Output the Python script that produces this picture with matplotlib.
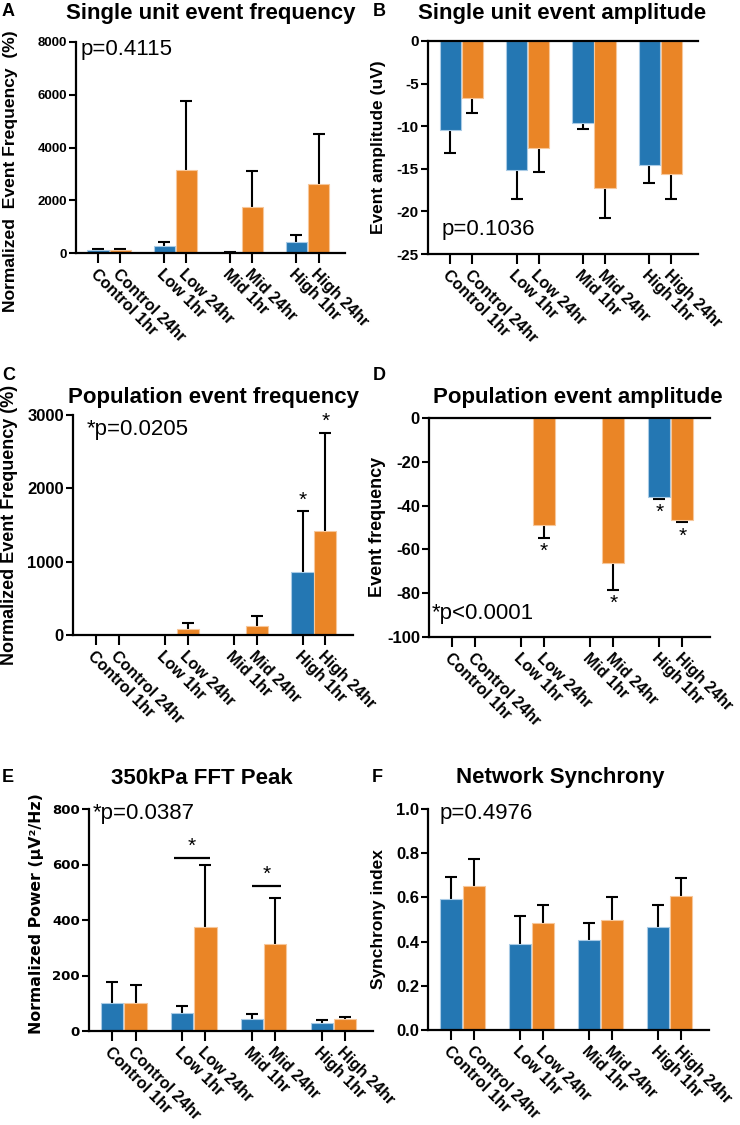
import matplotlib
matplotlib.use("Agg")
import matplotlib.pyplot as plt

plt.rcParams['font.family'] = ['Liberation Sans', 'DejaVu Sans']
plt.rcParams['axes.unicode_minus'] = False

W, H = 740, 1125
BLUE = "#2477b3"
ORANGE = "#ea8526"
BLUE_EDGE = "#a9cbe6"
ORANGE_EDGE = "#f7c79a"

labels = ["Control 1hr", "Control 24hr", "Low 1hr", "Low 24hr",
          "Mid 1hr", "Mid 24hr", "High 1hr", "High 24hr"]
x_pos = [0, 1, 3, 4, 6, 7, 9, 10]

# A - single unit event frequency (%)
su_freq = [100, 100, 250, 3150, 20, 1740, 415, 2630]
su_freq_err = [50, 45, 150, 2620, 25, 1385, 265, 1870]

# B - single unit event amplitude (uV)
su_amp = [-10.4, -6.7, -15.1, -12.5, -9.6, -17.3, -14.6, -15.6]
su_amp_err = [2.7, 1.7, 3.5, 2.9, 0.7, 3.5, 2.1, 3.0]

# C - population event frequency (%)
pop_freq = [0, 0, 0, 82, 0, 128, 857, 1423]
pop_freq_err = [0, 0, 0, 78, 0, 136, 830, 1336]
pop_freq_star = [False, False, False, False, False, False, True, True]

# D - population event amplitude
pop_amp = [0, 0, 0, -48.9, 0, -66.1, -36.0, -46.7]
pop_amp_err = [0, 0, 0, 5.8, 0, 12.4, 0.8, 0.9]
pop_amp_star = [False, False, False, True, False, True, True, True]

# E - 350kPa FFT peak
fft_peak = [100, 100, 65, 376, 45, 313, 30, 42]
fft_peak_err = [77, 67, 25, 224, 15, 165, 8, 10]
fft_sig_pairs = [(2.65, 4.2, 625), (6.0, 7.25, 524)]

# F - network synchrony
sync_idx = [0.594, 0.653, 0.390, 0.482, 0.405, 0.497, 0.465, 0.607]
sync_err = [0.098, 0.120, 0.127, 0.083, 0.080, 0.106, 0.101, 0.083]

colors = [BLUE, ORANGE] * 4
edges = [BLUE_EDGE, ORANGE_EDGE] * 4

fig = plt.figure(figsize=(W / 100, H / 100), dpi=100)


def fx(x):
    return x / W


def fy(y):
    return 1 - y / H


def make_ax(l, r, t, b):
    return fig.add_axes([fx(l), fy(b), (r - l) / W, (b - t) / H])


def style_ax(ax, negative=False, tick_size=10, tick_font=None):
    for s in ax.spines.values():
        s.set_linewidth(1.6)
    ax.spines['right'].set_visible(False)
    if not negative:
        ax.spines['top'].set_visible(False)
    ax.tick_params(axis='y', length=5, width=1.5, labelsize=tick_size, pad=1.5)
    ax.tick_params(axis='x', length=7, width=1.5, pad=3)
    for lab in ax.get_yticklabels():
        lab.set_fontweight('bold')
        if tick_font:
            lab.set_family(tick_font)
    ax.set_xticks(x_pos)
    ax.set_xticklabels(labels, rotation=-45, ha='left', va='top',
                       rotation_mode='anchor', fontweight='bold', fontsize=11.5)
    ax.set_xlim(-1.0, 11.2)


def bars(ax, means, errs):
    ax.bar(x_pos, means, width=0.96, color=colors, edgecolor=edges,
           linewidth=0.8, zorder=2)
    # symmetric error bars drawn behind the bars, so only the outer half shows
    for x, m, e in zip(x_pos, means, errs):
        if e == 0:
            continue
        ax.errorbar([x], [m], yerr=[e], fmt='none', ecolor='black',
                    elinewidth=1.5, capsize=4.5, capthick=1.5, zorder=1)


def ylabel(x, y, text, size, family=None):
    kw = {}
    if family:
        kw['family'] = family
    fig.text(fx(x), fy(y), text, rotation=90, ha='center', va='center',
             fontsize=size, fontweight='bold', **kw)


def title(x, y, text):
    fig.text(fx(x), fy(y), text, ha='center', va='center',
             fontsize=16, fontweight='bold')


def letter(x, y, text):
    fig.text(fx(x), fy(y), text, ha='left', va='center',
             fontsize=13, fontweight='bold')


def ptext(x, y, text):
    fig.text(fx(x), fy(y), text, ha='left', va='center', fontsize=16)


# ---- A ----
axA = make_ax(76, 345, 42, 253)
bars(axA, su_freq, su_freq_err)
axA.set_ylim(0, 8000)
axA.set_yticks([0, 2000, 4000, 6000, 8000])
style_ax(axA, tick_size=9.5)
letter(2, 12, "A")
title(211, 13, "Single unit event frequency")
ptext(81, 50, "p=0.4115")
ylabel(11, 171, "Normalized  Event Frequency  (%)", 12.6)

# ---- B ----
axB = make_ax(428, 698, 41, 254)
bars(axB, su_amp, su_amp_err)
axB.set_ylim(-25, 0)
axB.set_yticks([0, -5, -10, -15, -20, -25])
style_ax(axB, negative=True, tick_size=11)
letter(373, 12, "B")
title(562, 13, "Single unit event amplitude")
ptext(442, 230, "p=0.1036")
ylabel(378, 147, "Event amplitude (uV)", 12.5)

# ---- C ----
axC = make_ax(73, 353, 415, 635)
bars(axC, pop_freq, pop_freq_err)
for x, m, e, s in zip(x_pos, pop_freq, pop_freq_err, pop_freq_star):
    if s:
        axC.annotate("*", (x, m + e), xytext=(0, 1), textcoords='offset points',
                     ha='center', va='bottom', fontsize=15)
axC.set_ylim(0, 3000)
axC.set_yticks([0, 1000, 2000, 3000])
style_ax(axC, tick_size=12)
letter(2, 376, "C")
title(214, 398, "Population event frequency")
ptext(87, 429, "*p=0.0205")
ylabel(10, 525, "Normalized Event Frequency (%)", 13)

# ---- D ----
axD = make_ax(429, 710, 418, 637)
bars(axD, pop_amp, pop_amp_err)
for x, m, e, s in zip(x_pos, pop_amp, pop_amp_err, pop_amp_star):
    if s:
        axD.annotate("*", (x, m - e), xytext=(0, -3), textcoords='offset points',
                     ha='center', va='top', fontsize=15)
axD.set_ylim(-100, 0)
axD.set_yticks([0, -20, -40, -60, -80, -100])
style_ax(axD, negative=True, tick_size=12)
letter(373, 376, "D")
title(578, 398, "Population event amplitude")
ptext(432, 613, "*p<0.0001")
ylabel(378, 527, "Event frequency", 13)

# ---- E ----
axE = make_ax(89, 373, 809, 1031)
bars(axE, fft_peak, fft_peak_err)
for x0, x1, yv in fft_sig_pairs:
    axE.plot([x0, x1], [yv, yv], color='black', lw=1.6, solid_capstyle='butt')
    axE.text((x0 + x1) / 2, yv + 8, "*", ha='center', va='bottom', fontsize=15)
axE.set_ylim(0, 800)
axE.set_yticks([0, 200, 400, 600, 800])
style_ax(axE, tick_size=9.5, tick_font='DejaVu Sans')
letter(2, 778, "E")
title(202, 778, "350kPa FFT Peak")
ptext(93, 813, "*p=0.0387")
ylabel(37, 914, "Normalized Power (μV²/Hz)", 11.3, family='DejaVu Sans')

# ---- F ----
axF = make_ax(428, 709, 809, 1030)
bars(axF, sync_idx, sync_err)
axF.set_ylim(0, 1.0)
axF.set_yticks([0.0, 0.2, 0.4, 0.6, 0.8, 1.0])
axF.set_yticklabels(["0.0", "0.2", "0.4", "0.6", "0.8", "1.0"])
style_ax(axF, tick_size=12)
letter(372, 778, "F")
title(560, 778, "Network Synchrony")
ptext(440, 813, "p=0.4976")
ylabel(378, 919, "Synchrony index", 12.5)

fig.savefig("out.png", dpi=100)
